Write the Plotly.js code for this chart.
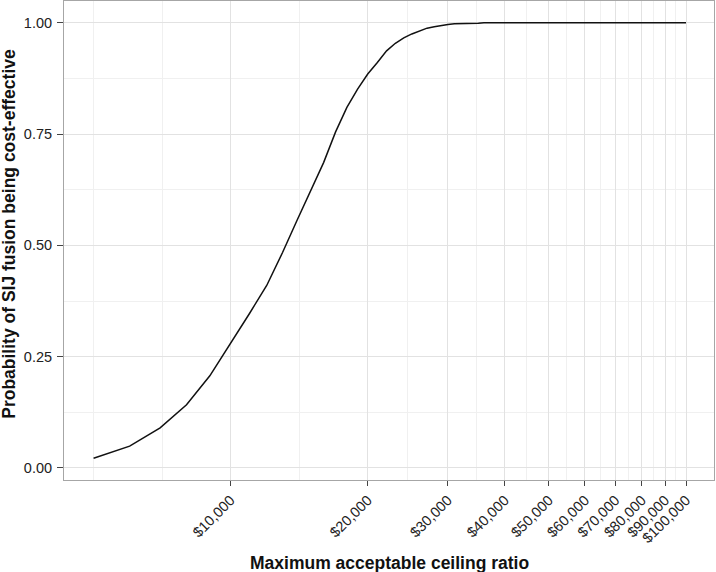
<!DOCTYPE html>
<html>
<head>
<meta charset="utf-8">
<script src="https://cdn.plot.ly/plotly-3.0.1.min.js"></script>
<style>
  html, body { margin: 0; padding: 0; background: #fff; }
  #plot { width: 716px; height: 572px; }
</style>
</head>
<body>
<div id="plot"></div>
<script>
// willingness-to-pay thresholds ($) and probability SIJ fusion is cost-effective
var ceiling = [5000, 6000, 7000, 8000, 9000, 10000, 11000, 12000, 13000, 14000,
	15000, 16000, 17000, 18000, 19000, 20000, 21000, 22000, 23000, 24000,
	25000, 26000, 27000, 28000, 29000, 30000, 31000, 32000, 33000, 34000,
	35000, 36000, 37000, 38000, 39000, 40000, 45000, 50000, 55000, 60000,
	65000, 70000, 75000, 80000, 85000, 90000, 95000, 100000];
var probCE = [0.022, 0.049, 0.090, 0.142, 0.207, 0.280, 0.347, 0.410, 0.484, 0.557,
	0.624, 0.686, 0.755, 0.810, 0.851, 0.885, 0.911, 0.937, 0.954, 0.966,
	0.975, 0.982, 0.988, 0.991, 0.994, 0.996, 0.998, 0.998, 0.999, 0.999,
	0.999, 1.000, 1.000, 1.000, 1.000, 1.000, 1.000, 1.000, 1.000, 1.000,
	1.000, 1.000, 1.000, 1.000, 1.000, 1.000, 1.000, 1.000];

var xTickVals = [10000, 20000, 30000, 40000, 50000, 60000, 70000, 80000, 90000, 100000];
var xTickText = ['$10,000', '$20,000', '$30,000', '$40,000', '$50,000', '$60,000',
	'$70,000', '$80,000', '$90,000', '$100,000'];
var yTickVals = [0, 0.25, 0.5, 0.75, 1];
var yTickText = ['0.00', '0.25', '0.50', '0.75', '1.00'];

// ggplot style minor breaks: halfway (in log space) between the majors
var xBreaks = [5000].concat(xTickVals);
var xMinor = [5000];
for (var i = 0; i < xBreaks.length - 1; i++) {
	xMinor.push(Math.sqrt(xBreaks[i] * xBreaks[i + 1]));
}
var yMinor = [];
for (var j = 0; j < yTickVals.length - 1; j++) {
	yMinor.push((yTickVals[j] + yTickVals[j + 1]) / 2);
}

var trace = {
	x: ceiling,
	y: probCE,
	type: 'scatter',
	mode: 'lines',
	line: { color: '#111111', width: 1.5 },
	hoverinfo: 'x+y'
};

var font = 'Liberation Sans, Arial, Helvetica, sans-serif';

var layout = {
	width: 716,
	height: 572,
	margin: { l: 64, r: 2, t: 1, b: 92 },
	paper_bgcolor: '#FFF',
	plot_bgcolor: '#FFF',
	showlegend: false,
	font: { family: font, color: '#222222', size: 14 },
	xaxis: {
		type: 'log',
		range: [3.634, 5.0615],
		tickmode: 'array',
		tickvals: xTickVals,
		ticktext: xTickText,
		tickangle: -45,
		ticks: 'outside',
		ticklen: 5,
		tickcolor: '#444',
		tickfont: { size: 14.5, color: '#222' },
		showgrid: true,
		gridcolor: '#e2e2e2',
		gridwidth: 1,
		minor: { tickmode: 'array', tickvals: xMinor, ticks: '', showgrid: true, gridcolor: '#f0f0f0', gridwidth: 1 },
		showline: true,
		linecolor: '#a6a6a6',
		linewidth: 1,
		mirror: true,
		zeroline: false,
		automargin: false
	},
	yaxis: {
		range: [-0.027, 1.049],
		tickmode: 'array',
		tickvals: yTickVals,
		ticktext: yTickText,
		ticks: 'outside',
		ticklen: 6,
		ticklabelstandoff: 2,
		tickcolor: '#444',
		tickfont: { size: 14.5, color: '#222' },
		showgrid: true,
		gridcolor: '#e2e2e2',
		gridwidth: 1,
		minor: { tickmode: 'array', tickvals: yMinor, ticks: '', showgrid: true, gridcolor: '#f0f0f0', gridwidth: 1 },
		showline: true,
		linecolor: '#a6a6a6',
		linewidth: 1,
		mirror: true,
		zeroline: false,
		automargin: false
	},
	annotations: [
		{
			text: '<b>Maximum acceptable ceiling ratio</b>',
			xref: 'paper', yref: 'paper',
			x: 0.5, y: 0, yshift: -83,
			xanchor: 'center', yanchor: 'middle',
			showarrow: false,
			font: { family: font, size: 17.5, color: '#111' }
		},
		{
			text: '<b>Probability of SIJ fusion being cost-effective</b>',
			xref: 'paper', yref: 'paper',
			x: 0, xshift: -55, y: 0.514,
			xanchor: 'center', yanchor: 'middle',
			textangle: -90,
			showarrow: false,
			font: { family: font, size: 17.5, color: '#111' }
		}
	]
};

var config = { responsive: false, displayModeBar: false, staticPlot: true };

Plotly.newPlot('plot', [trace], layout, config);
</script>
</body>
</html>
